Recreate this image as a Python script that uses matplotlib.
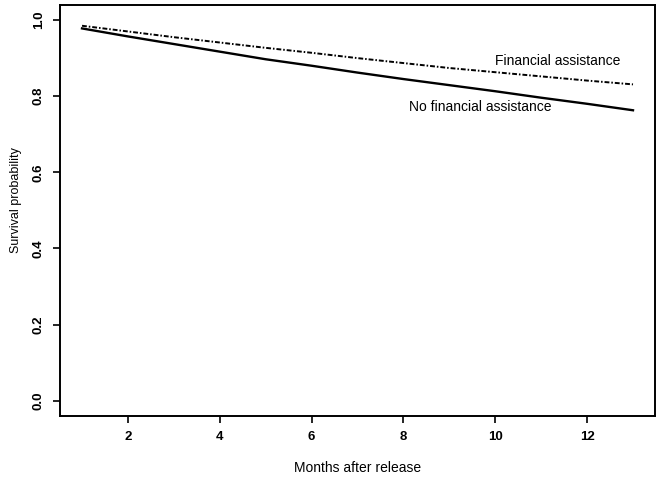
import matplotlib.pyplot as plt

plt.rcParams['font.family'] = ['Liberation Sans', 'DejaVu Sans']

# Survival curves (monthly)
months = [1, 2, 3, 4, 5, 6, 7, 8, 9, 10, 11, 12, 13]
no_assist = [0.978, 0.957, 0.937, 0.917, 0.897, 0.880, 0.862, 0.845, 0.829,
             0.813, 0.796, 0.780, 0.763]
assist = [0.985, 0.970, 0.955, 0.941, 0.927, 0.914, 0.900, 0.887, 0.874,
          0.863, 0.852, 0.841, 0.831]

x_ticks = [2, 4, 6, 8, 10, 12]
y_ticks = [0.0, 0.2, 0.4, 0.6, 0.8, 1.0]

fig = plt.figure(figsize=(6.59, 4.82), dpi=100)
ax = fig.add_axes([0.091, 0.137, 0.903, 0.853])

ax.plot(months, no_assist, color='black', linewidth=1.7)
ax.plot(months, assist, color='black', linewidth=1.4,
        linestyle=(0, (2.5, 1, 0.8, 1)))

ax.text(11.37, 0.892, 'Financial assistance', fontsize=10,
        ha='center', va='center')
ax.text(9.67, 0.771, 'No financial assistance', fontsize=10,
        ha='center', va='center')

# R-style 4% axis extension
ax.set_xlim(0.52, 13.48)
ax.set_ylim(-0.04, 1.04)
ax.set_xticks(x_ticks)
ax.set_xticklabels([str(t) for t in x_ticks], fontsize=9.5, fontweight='bold')
ax.set_yticks(y_ticks)
ax.set_yticklabels(['%.1f' % t for t in y_ticks], fontsize=9.5,
                   fontweight='bold', rotation=90, va='center')
ax.tick_params(direction='out', length=5, width=1.2, pad=6)

for s in ax.spines.values():
    s.set_linewidth(1.4)

ax.set_xlabel('Months after release', fontsize=10, labelpad=13)
ax.set_ylabel('Survival probability', fontsize=9)
ax.yaxis.set_label_coords(-0.064, 0.525)

fig.savefig('out.png', dpi=100)
